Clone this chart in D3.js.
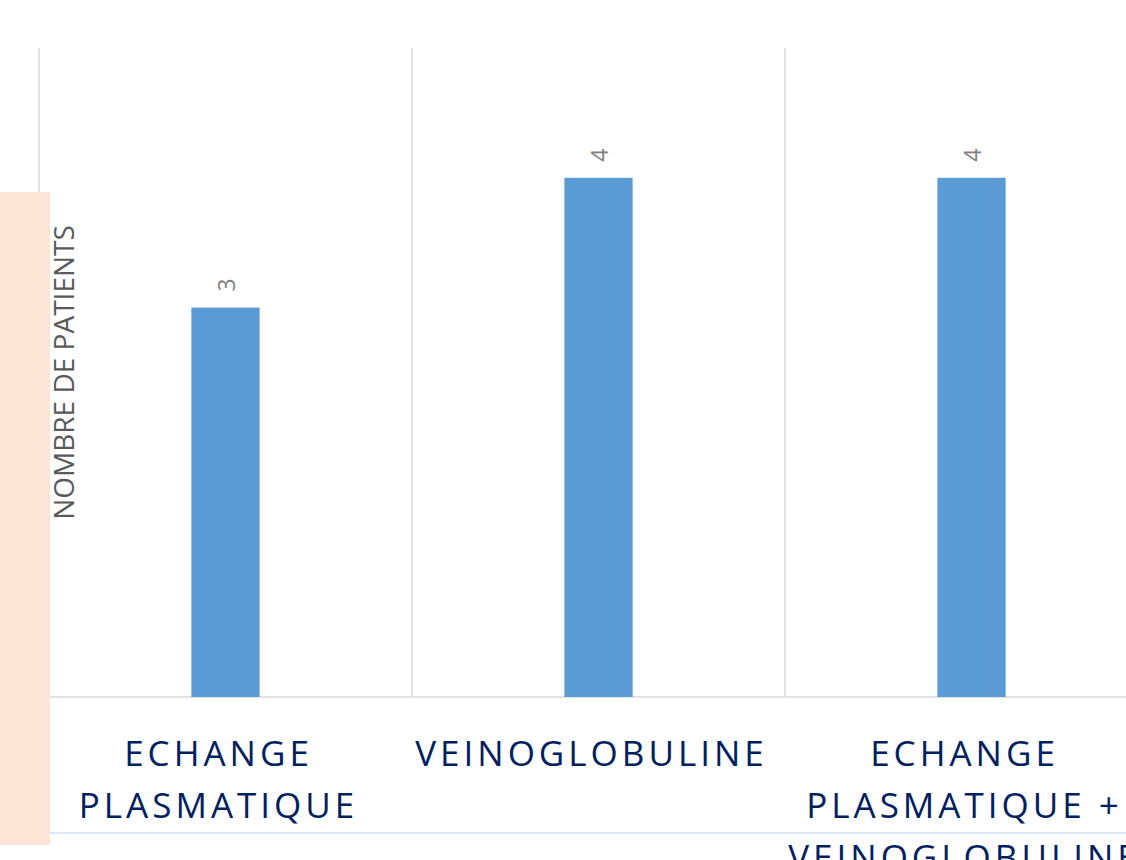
<!DOCTYPE html>
<html>
<head>
<meta charset="utf-8">
<script src="https://cdn.jsdelivr.net/npm/d3@7"></script>
<style>
  html, body { margin: 0; padding: 0; background: #ffffff; overflow: hidden; }
  svg { display: block; }
</style>
</head>
<body>
<svg id="chart" width="1126" height="860"></svg>
<script>
// Treatment groups and patient counts
const categories = [
  ["ECHANGE", "PLASMATIQUE"],
  ["VEINOGLOBULINE"],
  ["ECHANGE", "PLASMATIQUE +", "VEINOGLOBULINE"]
];
const patients = [3, 4, 4];
const yDomain = [0, 5];
const yTitle = "NOMBRE DE PATIENTS";

const svg = d3.select("#chart");
const W = 1126, H = 860;

// Plot area
const plot = { left: 39, right: 1158, top: 48, bottom: 697 };

const keys = categories.map((c, i) => i);
const x = d3.scaleBand().domain(keys).range([plot.left, plot.right]).paddingInner(0).paddingOuter(0);
const y = d3.scaleLinear().domain(yDomain).range([plot.bottom, plot.top]);

const barWidth = x.bandwidth() * 0.183;

// Vertical category separators
const gridX = keys.map(k => x(k)).concat([plot.right]);
svg.append("g").selectAll("line").data(gridX).join("line")
  .attr("x1", d => d).attr("x2", d => d)
  .attr("y1", plot.top).attr("y2", plot.bottom)
  .attr("stroke", "#d9d9d9").attr("stroke-width", 1.5);

// Baseline
svg.append("line")
  .attr("x1", plot.left).attr("x2", plot.right)
  .attr("y1", y(0)).attr("y2", y(0))
  .attr("stroke", "#d9d9d9").attr("stroke-width", 1.5);

// Bars
svg.append("g").selectAll("rect").data(patients).join("rect")
  .attr("x", (d, i) => x(i) + x.bandwidth() / 2 - barWidth / 2)
  .attr("y", d => y(d))
  .attr("width", barWidth)
  .attr("height", d => y(0) - y(d))
  .attr("fill", "#5b9bd5");

// Value labels, rotated
svg.append("g").selectAll("text").data(patients).join("text")
  .attr("transform", (d, i) => `translate(${x(i) + x.bandwidth() / 2 + 1},${y(d) - 16}) rotate(-90)`)
  .attr("text-anchor", "start")
  .attr("dy", "0.36em")
  .attr("font-family", "'Open Sans', sans-serif")
  .attr("font-size", 23)
  .attr("fill", "#7f7f7f")
  .text(d => d);

// Category labels
const catG = svg.append("g")
  .attr("font-family", "'Open Sans', sans-serif")
  .attr("font-size", 35)
  .attr("letter-spacing", 4)
  .attr("fill", "#002060")
  .attr("text-anchor", "middle");
categories.forEach((lines, i) => {
  const t = catG.append("text")
    .attr("x", x(i) + x.bandwidth() / 2 - 7)
    .attr("y", 766);
  lines.forEach((ln, j) => {
    t.append("tspan")
      .attr("x", x(i) + x.bandwidth() / 2 - 7)
      .attr("y", 766 + j * 52)
      .text(ln);
  });
});

// Light rule under the axis labels
svg.append("line")
  .attr("x1", 0).attr("x2", W)
  .attr("y1", 833).attr("y2", 833)
  .attr("stroke", "#dde8f5").attr("stroke-width", 2);

// Side panel
svg.append("rect")
  .attr("x", 0).attr("y", 192)
  .attr("width", 50).attr("height", 653)
  .attr("fill", "#fbe5d6");

// Axis title
svg.append("text")
  .attr("transform", `translate(64,${(225 + 520) / 2}) rotate(-90)`)
  .attr("text-anchor", "middle")
  .attr("dy", "0.36em")
  .attr("font-family", "'Open Sans', sans-serif")
  .attr("font-size", 28)
  .attr("fill", "#595959")
  .text(yTitle);
</script>
</body>
</html>
